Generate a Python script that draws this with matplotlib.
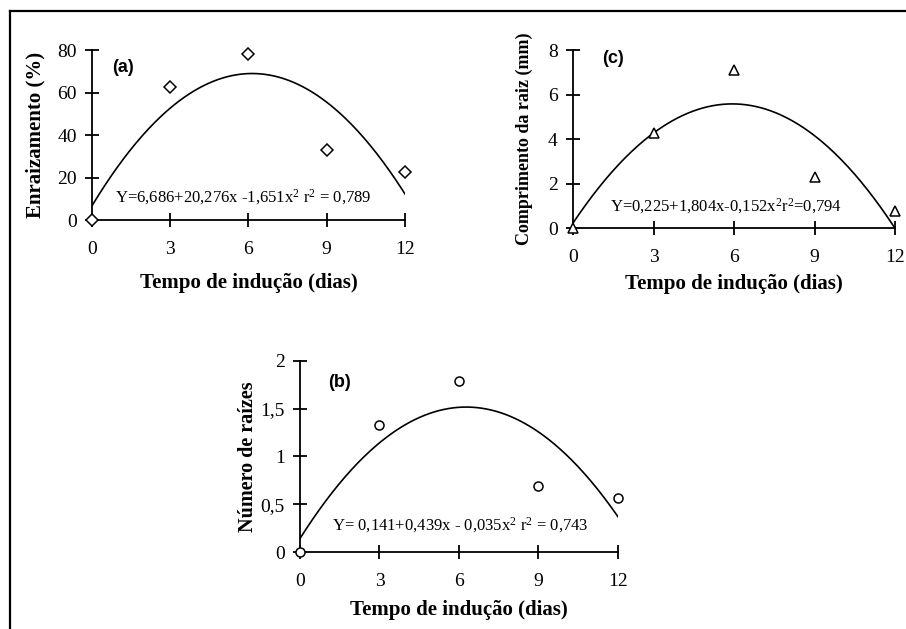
import numpy as np
import matplotlib
matplotlib.use('Agg')
import matplotlib.pyplot as plt
from matplotlib.lines import Line2D

# dias de indução
dias = [0, 3, 6, 9, 12]

# (a) enraizamento (%)
enraizamento = [0, 62.5, 78, 33, 22.4]
coef_a = [6.686, 20.276, -1.651]
eq_a = 'Y=6,686+20,276x -1,651x$^{2}$ r$^{2}$ = 0,789'

# (c) comprimento da raiz (mm)
comprimento = [0, 4.25, 7.1, 2.3, 0.78]
coef_c = [0.225, 1.804, -0.152]
eq_c = 'Y=0,225+1,804x-0,152x$^{2}$r$^{2}$=0,794'

# (b) número de raízes
num_raizes = [0, 1.33, 1.79, 0.69, 0.57]
coef_b = [0.141, 0.439, -0.035]
eq_b = 'Y= 0,141+0,439x - 0,035x$^{2}$ r$^{2}$ = 0,743'

SERIF = 'Liberation Serif'
SANS = 'Liberation Sans'
plt.rcParams['mathtext.fontset'] = 'custom'
plt.rcParams['mathtext.rm'] = SERIF
plt.rcParams['mathtext.it'] = SERIF


def painel(rect, y, coef, marker, ylim, yticks, ytl, ylabel, ylab_size, ylab_pad, letra, eq,
           eq_pos, letra_pos, xlab_pad):
    ax = fig.add_axes(rect)
    xs = np.linspace(0, 12, 200)
    ys = np.polyval(coef[::-1], xs)
    ax.plot(xs, ys, color='black', lw=1.2)
    ax.plot(dias, y, linestyle='none', marker=marker, ms=6.5, mfc='white',
            mec='black', mew=1.1, clip_on=False, zorder=5)
    ax.set_xlim(0, 12)
    ax.set_ylim(*ylim)
    ax.set_xticks(dias)
    ax.set_yticks(yticks)
    ax.set_yticklabels(ytl)
    for s in ['top', 'right']:
        ax.spines[s].set_visible(False)
    for s in ['left', 'bottom']:
        ax.spines[s].set_linewidth(1.3)
    ax.tick_params(direction='inout', length=10, width=1.3, labelsize=14)
    ax.tick_params(axis='x', pad=10)
    ax.tick_params(axis='y', pad=6)
    for t in ax.get_xticklabels() + ax.get_yticklabels():
        t.set_fontfamily(SERIF)
    ax.set_xlabel('Tempo de indução (dias)', fontfamily=SERIF, fontweight='bold',
                  fontsize=15, labelpad=xlab_pad)
    ax.set_ylabel(ylabel, fontfamily=SERIF, fontweight='bold', fontsize=ylab_size,
                  labelpad=ylab_pad)
    ax.text(letra_pos[0], letra_pos[1], letra, transform=ax.transAxes, fontfamily=SANS,
            fontweight='bold', fontsize=13, va='center', ha='left')
    ax.text(eq_pos[0], eq_pos[1], eq, transform=ax.transAxes, fontfamily=SERIF,
            fontsize=12, va='center', ha='left')
    ax.patch.set_alpha(0)
    return ax


fig = plt.figure(figsize=(9.06, 6.29), dpi=100)

painel([0.1015, 0.6502, 0.3455, 0.2703], enraizamento, coef_a, 'D',
       (0, 80), [0, 20, 40, 60, 80], ['0', '20', '40', '60', '80'],
       'Enraizamento (%)', 15, 8, '(a)', eq_a, (0.075, 0.135), (0.065, 0.9), 11)

painel([0.6325, 0.6375, 0.3554, 0.283], comprimento, coef_c, '^',
       (0, 8), [0, 2, 4, 6, 8], ['0', '2', '4', '6', '8'],
       'Comprimento da raiz (mm)', 13, 11, '(c)', eq_c, (0.115, 0.12), (0.09, 0.95), 6)

painel([0.3311, 0.1224, 0.351, 0.3037], num_raizes, coef_b, 'o',
       (0, 2), [0, 0.5, 1, 1.5, 2], ['0', '0,5', '1', '1,5', '2'],
       'Número de raízes', 14.5, 2, '(b)', eq_b, (0.1, 0.14), (0.09, 0.885), 7)

# moldura (somente topo e esquerda visíveis)
fig.add_artist(Line2D([10 / 906, 1], [1 - 11 / 629, 1 - 11 / 629], color='black', lw=1.6))
fig.add_artist(Line2D([10 / 906, 10 / 906], [0, 1 - 11 / 629], color='black', lw=1.6))

fig.savefig('out.png', dpi=100)
